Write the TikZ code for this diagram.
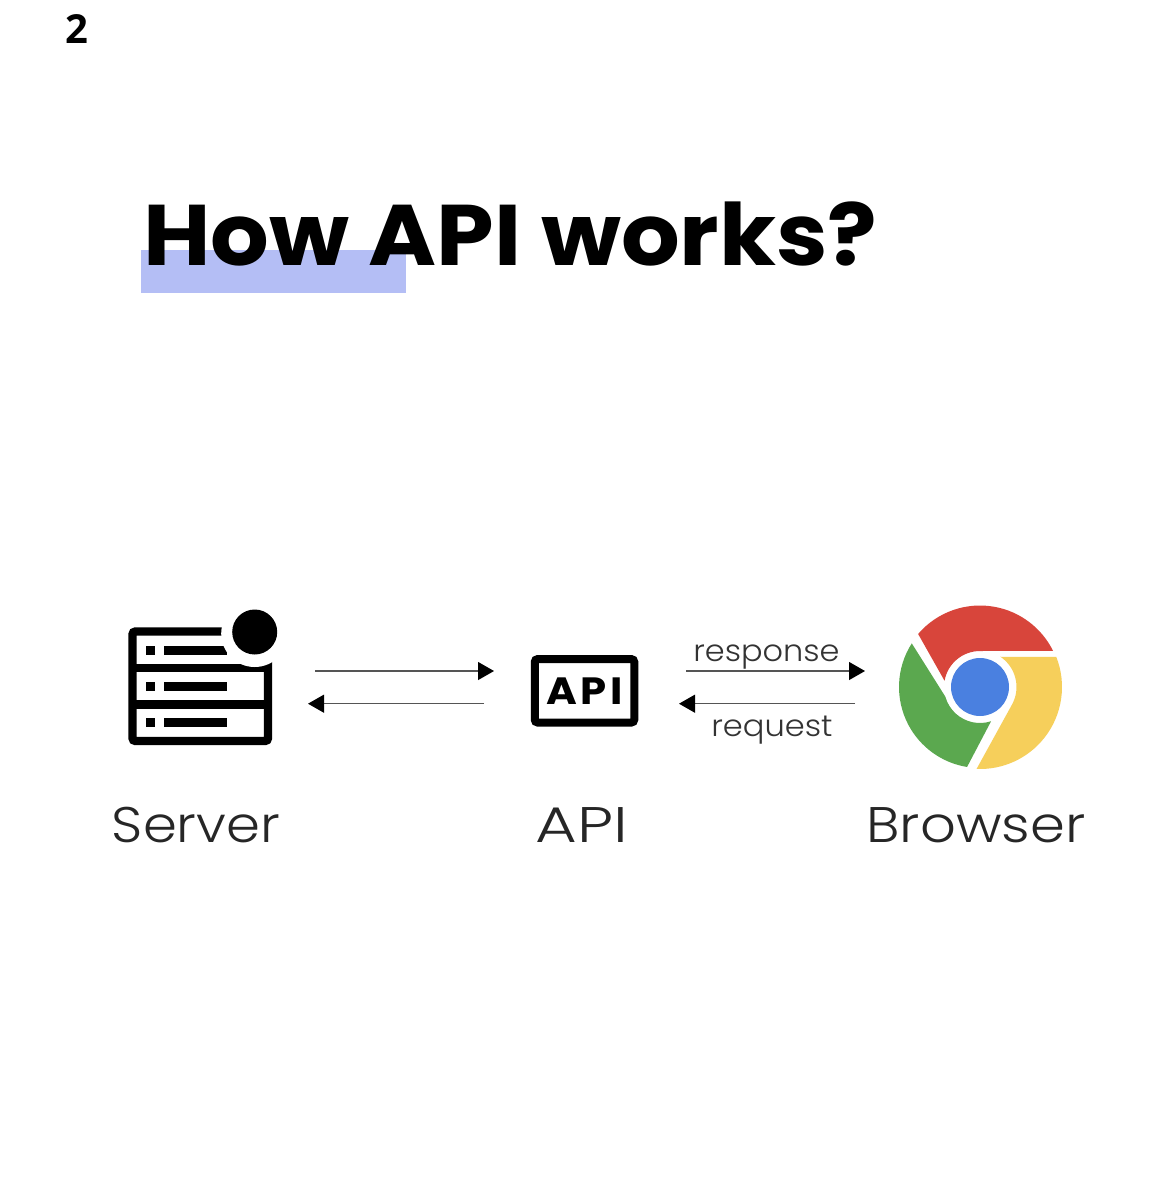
\documentclass[tikz,border=0pt]{standalone}
\usepackage{fontspec}
\usepackage{graphicx}
\usetikzlibrary{arrows.meta}
\setmainfont{Poppins}
\newfontfamily\lightfont[UprightFont=* Light]{Poppins}
\newfontfamily\boldfont[UprightFont=* Bold]{Poppins}
\newfontfamily\numfont[UprightFont=* Bold]{Open Sans}
\definecolor{hl}{HTML}{B4BEF5}
\definecolor{chromered}{HTML}{D8453B}
\definecolor{chromegreen}{HTML}{5BA84F}
\definecolor{chromeyellow}{HTML}{F6CF5B}
\definecolor{chromeblue}{HTML}{4A80E0}
\definecolor{arrowgray}{HTML}{555555}
\tikzset{
  flow/.style={draw=arrowgray,line width=1.1pt,-{Triangle[color=black,length=16pt,width=18pt]}},
  bar/.style={fill=black,draw=none},
  caption/.style={anchor=base,inner sep=0pt,text=black!85,font=\lightfont\fontsize{50}{60}\selectfont},
  small/.style={anchor=base,inner sep=0pt,text=black!80,font=\lightfont\fontsize{30}{36}\selectfont},
}
\begin{document}
\begin{tikzpicture}[x=1pt,y=-1pt]
\useasboundingbox (0,0) rectangle (1170,1189);
\fill[white] (0,0) rectangle (1170,1189);
\node[anchor=base,inner sep=0pt,font=\numfont\fontsize{40}{44}\selectfont] (num) at (77,43) {2};
% title
\fill[hl] (141,250) rectangle (406,293);
\node[anchor=base west,inner sep=0pt,font=\boldfont\fontsize{86}{100}\selectfont] (title) at (143,265) {\scalebox{1.073}[1]{How API works?}};
% server icon
\draw[line width=8.4pt,rounded corners=3pt] (132.5,631.5) rectangle (268,741);
\fill[bar] (136,664) rectangle (264,672.4);
\fill[bar] (136,700) rectangle (264,708.6);
\foreach \y in {646,681.7,717.7}{
  \fill[bar] (146,\y) rectangle +(9.3,9.3);
  \fill[bar] (164,\y) rectangle +(63.3,9.3);
}
\fill[white] (254.7,633.5) circle[radius=33.5];
\fill[black] (254.7,632) circle[radius=22.5];
\node[caption] (server) at (196,842) {\scalebox{1.09}[1]{Server}};
% api icon
\node[draw,line width=8pt,rounded corners=3pt,minimum width=99.5pt,minimum height=63.5pt,inner sep=0pt,
  font=\boldfont\fontsize{38}{44}\selectfont] (apiicon) at (584.5,690.8) {\scalebox{1.1}[1]{\addfontfeature{LetterSpace=8}API}};
\node[caption] (api) at (582,842) {\scalebox{1.28}[1]{API}};
% browser icon
\coordinate (c) at (980,687);
\begin{scope}[shift={(c)},y=1pt]
  \fill[chromered] (139.4:81.5) arc[start angle=139.4,end angle=26.4,radius=81.5] -- (90:36) arc[start angle=90,end angle=170,radius=36] -- cycle;
  \fill[chromegreen] (147.4:81) arc[start angle=147.4,end angle=260.8,radius=81] -- (287.9:36) arc[start angle=287.9,end angle=195.5,radius=36] -- cycle;
  \fill[chromeyellow] (21.6:82) arc[start angle=21.6,end angle=-92.4,radius=82] -- (-29.6:36.5) arc[start angle=-29.6,end angle=56,radius=36.5] -- cycle;
  \fill[chromeblue] (0,0) circle[radius=29];
\end{scope}
\node[caption] (browser) at (976,842) {\scalebox{1.12}[1]{Browser}};
% arrows
\coordinate (a1s) at (315,671);
\coordinate (a1e) at (494,671);
\coordinate (a2s) at (484,703.7);
\coordinate (a2e) at (308,703.7);
\coordinate (b1s) at (686,671);
\coordinate (b1e) at (865,671);
\coordinate (b2s) at (855,703.7);
\coordinate (b2e) at (679,703.7);
\draw[flow] (a1s) -- (a1e);
\draw[flow] (a2s) -- (a2e);
\draw[flow] (b1s) -- (b1e);
\draw[flow] (b2s) -- (b2e);
\node[small] (resp) at (766.5,661.5) {\scalebox{1.065}[1]{response}};
\node[small] (req) at (772,736.5) {\scalebox{1.07}[1]{request}};
\end{tikzpicture}
\end{document}
